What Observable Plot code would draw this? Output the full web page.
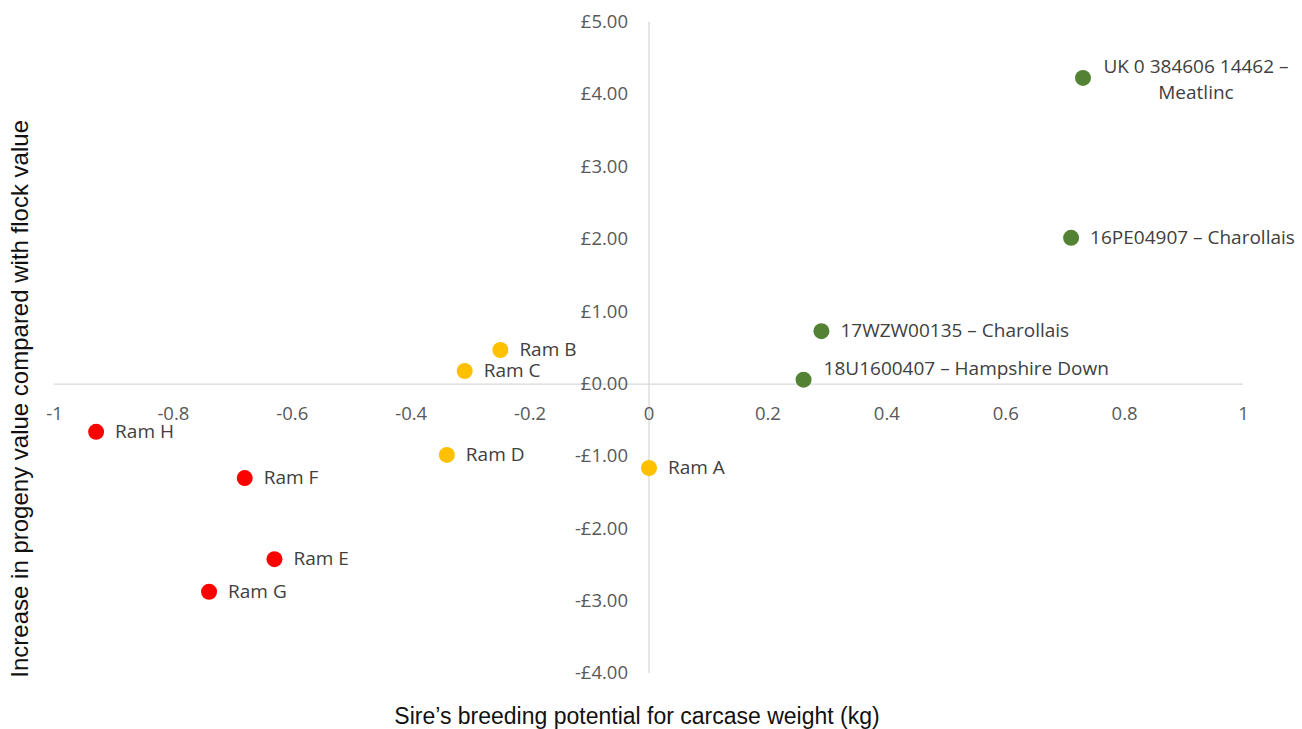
<!DOCTYPE html>
<html>
<head>
<meta charset="utf-8">
<script src="https://cdn.jsdelivr.net/npm/d3@7"></script>
<script src="https://cdn.jsdelivr.net/npm/@observablehq/plot@0.6"></script>
<style>
  body { margin: 0; background: #fff; }
  #chart svg { display: block; }
</style>
</head>
<body>
<div id="chart"></div>
<script>
// Sires, their carcase-weight breeding value (kg) and the progeny value gain (£)
const sires = [
  "Ram A", "Ram B", "Ram C", "Ram D",
  "Ram E", "Ram F", "Ram G", "Ram H",
  "18U1600407 – Hampshire Down",
  "17WZW00135 – Charollais",
  "16PE04907 – Charollais",
  "UK 0 384606 14462 –\nMeatlinc"
];
const carcaseEbv = [0.00, -0.25, -0.31, -0.34, -0.63, -0.68, -0.74, -0.93, 0.26, 0.29, 0.71, 0.73];
const progenyGain = [-1.16, 0.47, 0.18, -0.98, -2.42, -1.30, -2.87, -0.66, 0.06, 0.73, 2.02, 4.23];
const tier = ["flock", "flock", "flock", "flock", "below", "below", "below", "below", "recorded", "recorded", "recorded", "recorded"];

const tierNames = ["recorded", "flock", "below"];
const tierColours = ["#548235", "#FFC000", "#FF0000"];

const xTicks = [-1, -0.8, -0.6, -0.4, -0.2, 0, 0.2, 0.4, 0.6, 0.8, 1];
const xTickLabels = ["-1", "-0.8", "-0.6", "-0.4", "-0.2", "0", "0.2", "0.4", "0.6", "0.8", "1"];
const yTicks = [5, 4, 3, 2, 1, 0, -1, -2, -3, -4];
const yTickLabels = ["£5.00", "£4.00", "£3.00", "£2.00", "£1.00", "£0.00", "-£1.00", "-£2.00", "-£3.00", "-£4.00"];

const xTitle = "Sire’s breeding potential for carcase weight (kg)";
const yTitle = "Increase in progeny value compared with flock value";

const rows = sires.map((name, i) => ({name, x: carcaseEbv[i], y: progenyGain[i], tier: tier[i]}));
const plainLabels = rows.filter(d => d.tier !== "recorded" || d.name.startsWith("17W") || d.name.startsWith("16PE"));
const aboveLabels = rows.filter(d => d.name.startsWith("18U"));
const wrappedLabels = rows.filter(d => d.name.startsWith("UK"));

const grey = "#595959";
const tickFont = {fontFamily: "Open Sans", fontSize: 18.5, fill: grey};
const labelFont = {fontFamily: "Open Sans", fontSize: 19, fill: "#404040"};
const titleFont = {fontFamily: "Liberation Sans", fill: "#111"};

const chart = Plot.plot({
  width: 1302,
  height: 729,
  marginLeft: 54,
  marginRight: 59,
  marginTop: 21.7,
  marginBottom: 56,
  x: {domain: [-1, 1], axis: null},
  y: {domain: [-4, 5], axis: null},
  color: {domain: tierNames, range: tierColours},
  marks: [
    // crossing axes through the origin
    Plot.ruleY([0], {x1: -1, x2: 1, stroke: "#d9d9d9", strokeWidth: 1.3}),
    Plot.ruleX([0], {y1: -4, y2: 5, stroke: "#d9d9d9", strokeWidth: 1.3}),
    // tick labels
    Plot.text(xTicks, {x: d => d, y: 0, text: (d, i) => xTickLabels[i], dy: 30, lineAnchor: "middle", ...tickFont}),
    Plot.text(yTicks, {x: 0, y: d => d, text: (d, i) => yTickLabels[i], textAnchor: "end", dx: -21, lineAnchor: "middle", ...tickFont}),
    // sires
    Plot.dot(rows, {x: "x", y: "y", r: 8, fill: "tier"}),
    Plot.text(plainLabels, {x: "x", y: "y", text: "name", textAnchor: "start", dx: 19, lineAnchor: "middle", ...labelFont}),
    Plot.text(aboveLabels, {x: "x", y: "y", text: "name", textAnchor: "start", dx: 20, dy: -11, lineAnchor: "middle", ...labelFont}),
    Plot.text(wrappedLabels, {x: "x", y: "y", text: "name", textAnchor: "middle", dx: 113, dy: 0, lineHeight: 1.37, lineAnchor: "middle", ...labelFont}),
    // axis titles
    Plot.text([xTitle], {frameAnchor: "bottom", textAnchor: "middle", dx: -12, dy: 43, lineAnchor: "middle", fontSize: 23, ...titleFont}),
    Plot.text([yTitle], {frameAnchor: "left", textAnchor: "middle", rotate: -90, dx: -34, dy: 51, lineAnchor: "middle", fontSize: 24, ...titleFont})
  ]
});
document.getElementById("chart").append(chart);
</script>
</body>
</html>
